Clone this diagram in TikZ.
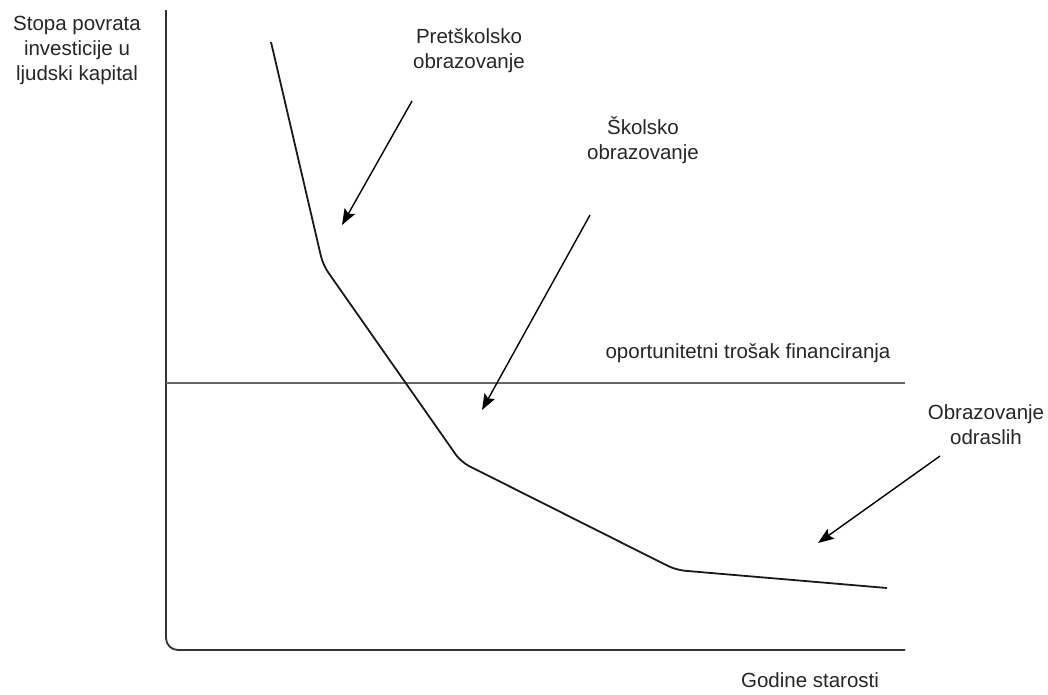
\documentclass[tikz,border=0pt]{standalone}
\usepackage{fontspec}
\setmainfont{Liberation Sans}
\usetikzlibrary{arrows.meta}
\tikzset{
	lbl/.style={align=center, inner sep=0pt, font=\fontsize{20.5}{25}\selectfont, text=black!85},
	pointer/.style={line width=1.4pt, -{Stealth[length=16pt, width=12pt, inset=3pt]}},
	axis/.style={line width=1.8pt, color=black!80, rounded corners=12pt},
	curve/.style={line width=1.8pt, color=black!90, rounded corners=9pt}
}

\begin{document}
\begin{tikzpicture}[x=1pt, y=-1pt]
		%%%%% START %%%%%
		\useasboundingbox (0, 0) rectangle (1048, 694);
		
		% axes
		\coordinate (ytop) at (166, 10);
		\coordinate (origin) at (166, 650);
		\coordinate (xend) at (905, 650);
		\draw[axis] (ytop) -- (origin) -- (xend);
		
		% opportunity cost line
		\coordinate (costL) at (166, 383);
		\coordinate (costR) at (905, 383);
		\draw[line width=2.2pt, color=black!60] (costL) -- (costR);
		
		% return curve
		\coordinate (c0) at (271, 42);
		\coordinate (c1) at (323, 265);
		\coordinate (c2) at (461, 462);
		\coordinate (c3) at (676, 570);
		\coordinate (c4) at (887, 588);
		\draw[curve] (c0) -- (c1) -- (c2) -- (c3) -- (c4);
		
		% labels
		\node[lbl] (ylabel) at (77, 50) {Stopa povrata\\investicije u\\ljudski kapital};
		\node[lbl] (xlabel) at (810, 680) {Godine starosti};
		\node[lbl] (cost) at (748, 353) {oportunitetni trošak financiranja};
		\node[lbl] (pre) at (469, 51) {Pretškolsko\\obrazovanje};
		\node[lbl] (school) at (643, 140) {Školsko\\obrazovanje};
		\node[lbl] (adult) at (986, 425) {Obrazovanje\\odraslih};
		
		% pointers
		\coordinate (p1s) at (412, 101);
		\coordinate (p1e) at (342, 225);
		\coordinate (p2s) at (590, 215);
		\coordinate (p2e) at (482, 410);
		\coordinate (p3s) at (940, 456);
		\coordinate (p3e) at (818, 543);
		\draw[pointer] (p1s) -- (p1e);
		\draw[pointer] (p2s) -- (p2e);
		\draw[pointer] (p3s) -- (p3e);
		%%%%% END %%%%%
\end{tikzpicture}
\end{document}
